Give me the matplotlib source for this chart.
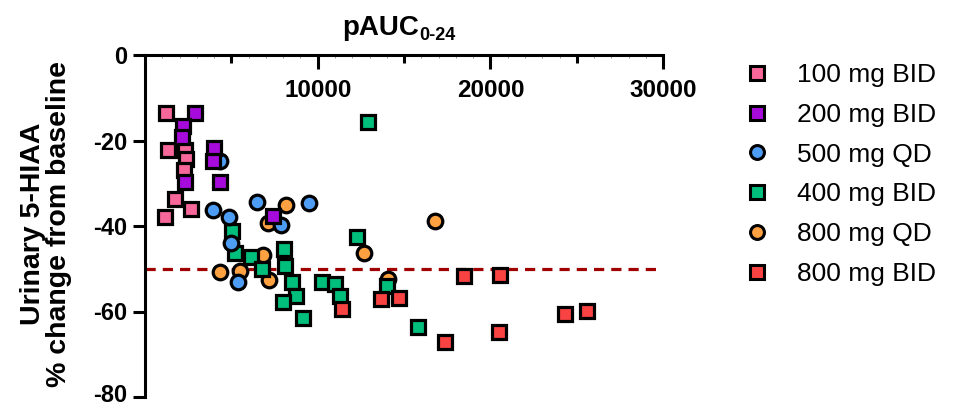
import numpy as np
import matplotlib.pyplot as plt
import matplotlib.transforms as mtransforms
from matplotlib.lines import Line2D

plt.rcParams['font.family'] = ['Liberation Sans', 'DejaVu Sans']
plt.rcParams['axes.unicode_minus'] = False

# pAUC0-24 (x) vs % change in urinary 5-HIAA (y)
x_100bid = [1230, 1329, 2293, 2391, 2258, 1753, 2641, 1132]
y_100bid = [-13.6, -22.3, -22.2, -24.3, -27.0, -33.7, -36.0, -37.9]

x_200bid = [2873, 2200, 2159, 2293, 3976, 3941, 4364, 7423]
y_200bid = [-13.5, -16.6, -19.1, -29.6, -21.8, -24.9, -29.7, -37.7]

x_500qd = [4324, 3941, 4846, 6512, 9489, 7864, 5003, 5392]
y_500qd = [-24.9, -36.2, -37.9, -34.4, -34.6, -39.8, -43.9, -53.1]

x_400bid = [5044, 5194, 6123, 6785, 8061, 8096, 8526, 8717, 7963, 9124,
            10226, 10998, 11288, 12896, 12258, 13999, 15781]
y_400bid = [-41.2, -46.3, -47.2, -50.1, -45.3, -49.4, -53.1, -56.4, -57.8, -61.6,
            -53.1, -53.6, -56.4, -15.6, -42.5, -54.0, -63.6]

x_800qd = [8137, 7092, 6843, 4324, 5485, 7191, 12681, 16767, 14057]
y_800qd = [-35.0, -39.4, -46.8, -50.8, -50.5, -52.6, -46.4, -38.9, -52.5]

x_800bid = [11387, 13668, 14678, 18485, 20575, 17382, 20482, 24289, 25566]
y_800bid = [-59.3, -57.0, -56.8, -51.7, -51.5, -67.2, -64.9, -60.6, -59.9]

grupos = [
    ('100 mg BID', x_100bid, y_100bid, 's', '#F7679A', 6),
    ('200 mg BID', x_200bid, y_200bid, 's', '#A70BDB', 7),
    ('500 mg QD', x_500qd, y_500qd, 'o', '#4E9DF5', 5),
    ('400 mg BID', x_400bid, y_400bid, 's', '#00BE7B', 3),
    ('800 mg QD', x_800qd, y_800qd, 'o', '#FFA141', 2),
    ('800 mg BID', x_800bid, y_800bid, 's', '#F94343', 4),
]

fig = plt.figure(figsize=(9.64, 4.09), dpi=100)
ax = fig.add_axes([145 / 964, 1 - 397 / 409, (662 - 143.8) / 964, 342 / 409])

handles = []
for nombre, xs, ys, mk, col, z in grupos:
    ax.plot(xs, ys, linestyle='none', marker=mk, markersize=10.5, markerfacecolor=col,
            markeredgecolor='black', markeredgewidth=2.3, zorder=z, clip_on=False)
    handles.append(Line2D([], [], linestyle='none', marker=mk, markersize=10,
                          markerfacecolor=col, markeredgecolor='black',
                          markeredgewidth=2.2, label=nombre))

# línea de referencia -50 %
ax.axhline(-50, color='#A00000', linewidth=2.3, dashes=(3.2, 2.2), zorder=1)

ax.set_xlim(0, 30000)
ax.set_ylim(-80, 0)

# eje x arriba (en y=0), etiquetas debajo de la línea
ax.spines['bottom'].set_position(('data', 0))
ax.spines['top'].set_visible(False)
ax.spines['right'].set_visible(False)
for s in ['bottom', 'left']:
    ax.spines[s].set_linewidth(2.2)

ax.set_xticks([10000, 20000, 30000])
ax.set_xticks([5000, 15000, 25000], minor=True)
ax.set_yticks([0, -20, -40, -60, -80])
ax.tick_params(axis='x', which='major', direction='out', length=10, width=2.2, pad=7,
               labelsize=17.5)
ax.tick_params(axis='x', which='minor', direction='out', length=6, width=2.2)
ax.tick_params(axis='y', direction='out', length=8.5, width=2.2, pad=4, labelsize=17)
for lab in ax.get_xticklabels() + ax.get_yticklabels():
    lab.set_fontweight('bold')
# subir un poco la etiqueta -80 para que no se corte
lab80 = ax.get_yticklabels()[-1]
lab80.set_transform(lab80.get_transform() +
                    mtransforms.ScaledTranslation(0, 3 / 72, fig.dpi_scale_trans))

# marcas muy finas cada 1000
sec = ax.secondary_xaxis('top')
sec.set_xticks([v for v in range(1000, 30000, 1000) if v % 5000 != 0])
sec.tick_params(direction='in', length=2.5, width=0.6, color='#888888', labeltop=False)
sec.spines['top'].set_visible(False)

# título del eje x
fig.text(342.7 / 964, 1 - 35 / 409, 'pAUC', ha='left', va='baseline', fontsize=20,
         fontweight='bold')
fig.text(419 / 964, 1 - 40 / 409, '0-24', ha='left', va='baseline', fontsize=13,
         fontweight='bold')

fig.text(46.5 / 964, 1 - 224 / 409, 'Urinary 5-HIAA\n% change from baseline', rotation=90,
         ha='center', va='center', fontsize=20.5, fontweight='bold', linespacing=1.0,
         multialignment='center')

fig.legend(handles=handles, loc='upper left', bbox_to_anchor=(744 / 964, 1 - 63 / 409),
           frameon=False, fontsize=19, handlelength=1.0, handletextpad=1.0,
           labelspacing=0.6, borderpad=0, borderaxespad=0, numpoints=1)

fig.savefig('out.png', dpi=100)
